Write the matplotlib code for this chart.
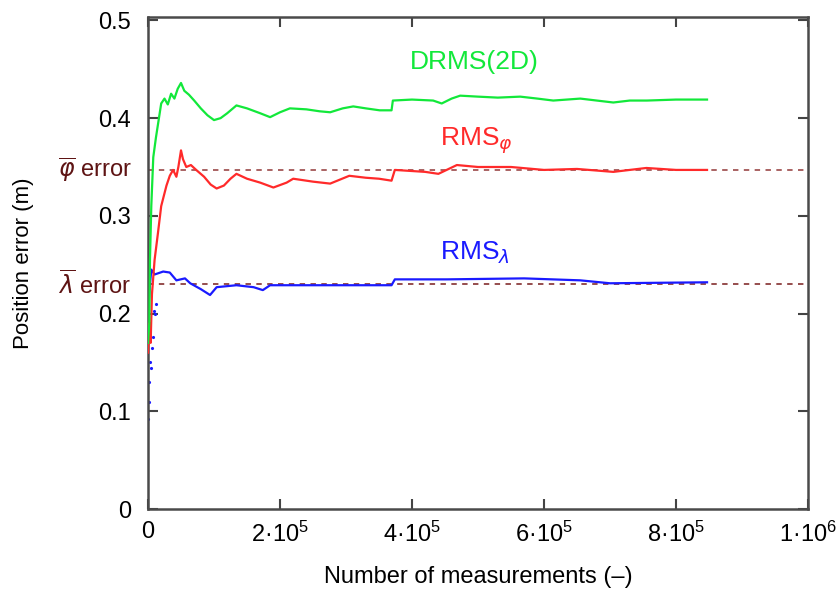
import matplotlib
matplotlib.use("Agg")
import matplotlib.pyplot as plt

plt.rcParams['font.family'] = ['Liberation Sans', 'DejaVu Sans']
plt.rcParams['mathtext.fontset'] = 'custom'
plt.rcParams['mathtext.rm'] = 'Liberation Sans'
plt.rcParams['mathtext.it'] = 'Liberation Sans:italic'
plt.rcParams['mathtext.bf'] = 'Liberation Sans:bold'

# number of measurements (thousands) and running error (m)
drms_n = [0, 2, 3, 5, 8, 12, 20, 25, 30, 35, 40, 45, 50, 55, 62, 70, 80, 90,
          100, 110, 120, 134, 150, 170, 185, 200, 215, 240, 260, 276, 295,
          311, 330, 351, 369, 371, 400, 432, 445, 460, 473, 500, 530, 564,
          590, 614, 655, 680, 705, 730, 756, 800, 847]
drms_v = [0.17, 0.19, 0.255, 0.31, 0.36, 0.38, 0.415, 0.42, 0.414, 0.425,
          0.42, 0.43, 0.436, 0.428, 0.424, 0.418, 0.41, 0.403, 0.398, 0.40,
          0.405, 0.413, 0.41, 0.405, 0.401, 0.406, 0.41, 0.409, 0.407, 0.406,
          0.41, 0.412, 0.41, 0.408, 0.408, 0.418, 0.419, 0.418, 0.415, 0.42,
          0.423, 0.422, 0.421, 0.422, 0.42, 0.418, 0.42, 0.418, 0.416, 0.418,
          0.418, 0.419, 0.419]

phi_n = [0, 2, 4, 6, 10, 15, 20, 28, 33, 38, 43, 46, 50, 53, 58, 65, 73, 85,
         95, 104, 115, 125, 134, 150, 170, 190, 210, 220, 250, 276, 305, 330,
         350, 369, 374, 420, 440, 468, 500, 550, 600, 650, 705, 755, 800, 847]
phi_v = [0.16, 0.19, 0.17, 0.22, 0.255, 0.282, 0.31, 0.331, 0.341, 0.347,
         0.34, 0.35, 0.367, 0.358, 0.35, 0.352, 0.347, 0.34, 0.332, 0.328,
         0.331, 0.338, 0.343, 0.338, 0.334, 0.329, 0.334, 0.338, 0.335,
         0.333, 0.341, 0.339, 0.338, 0.336, 0.347, 0.345, 0.343, 0.352, 0.35,
         0.35, 0.347, 0.348, 0.345, 0.349, 0.347, 0.347]

lam_n = [0, 3, 5, 10, 23, 33, 43, 56, 64, 80, 94, 104, 134, 160, 174, 185,
         250, 350, 369, 374, 453, 570, 655, 700, 847]
lam_v = [0.20, 0.23, 0.245, 0.24, 0.243, 0.242, 0.234, 0.236, 0.231, 0.225,
         0.219, 0.227, 0.229, 0.227, 0.224, 0.229, 0.229, 0.229, 0.229, 0.235,
         0.235, 0.236, 0.234, 0.231, 0.232]

# scattered early lambda estimates
lam_pts_n = [0, 1, 2, 3, 4, 6, 8, 9, 10, 12]
lam_pts_v = [0.092, 0.11, 0.13, 0.15, 0.144, 0.165, 0.176, 0.203, 0.2, 0.21]

phi_mean = 0.347
lam_mean = 0.230

xticks = [0, 2e5, 4e5, 6e5, 8e5, 1e6]
xtick_labels = ['0', '2·10$^5$', '4·10$^5$', '6·10$^5$', '8·10$^5$', '1·10$^6$']
yticks = [0, 0.1, 0.2, 0.3, 0.4, 0.5]
ytick_labels = ['0', '0.1', '0.2', '0.3', '0.4', '0.5']

GREEN = '#12e83a'
RED = '#ff2a2a'
BLUE = '#1a1aff'
DARKRED = '#5e1414'

fig = plt.figure(figsize=(8.38, 5.89), dpi=100)
ax = fig.add_axes([148 / 838, 1 - 509 / 589, 660 / 838, 492 / 589])

k = 1000
ax.axhline(phi_mean, color='#a35656', ls=(0, (3, 3)), lw=1.3, zorder=1)
ax.axhline(lam_mean, color='#8e3f3f', ls=(0, (3, 3)), lw=1.3, zorder=1)

ax.plot([n * k for n in lam_n], lam_v, color=BLUE, lw=1.6, zorder=2)
ax.plot([n * k for n in lam_pts_n], lam_pts_v, ls='none', marker='.',
        ms=2.5, color=BLUE, zorder=2)
ax.plot([n * k for n in phi_n], phi_v, color=RED, lw=1.6, zorder=3)
ax.plot([n * k for n in drms_n], drms_v, color=GREEN, lw=1.6, zorder=4)

ax.text(397e3, 0.457, 'DRMS(2D)', color=GREEN, fontsize=19, va='center')
ax.text(442e3, 0.377, 'RMS$_{\\varphi}$', color=RED, fontsize=19, va='center',
        math_fontfamily='dejavusans')
ax.text(442e3, 0.262, 'RMS$_{\\lambda}$', color=BLUE, fontsize=19, va='center',
        math_fontfamily='dejavusans')

ax.set_xlim(0, 1e6)
ax.set_ylim(0, 0.5035)
ax.set_xticks(xticks)
ax.set_xticklabels(xtick_labels, fontsize=17)
ax.set_yticks(yticks)
ax.set_yticklabels(ytick_labels, fontsize=17)
ax.tick_params(direction='in', length=7, width=1.5, color='#444444',
               top=True, right=True)
ax.tick_params(axis='y', pad=12)
ax.tick_params(axis='x', pad=9)
for s in ax.spines.values():
    s.set_linewidth(1.8)
    s.set_color('#4a4a4a')

for val, sym in [(phi_mean, '\\varphi'), (lam_mean, '\\lambda')]:
    ax.annotate('$\\overline{%s}$ error' % sym, xy=(0, val),
                xycoords=('axes fraction', 'data'), xytext=(-12, 0),
                textcoords='offset points', ha='right', va='center',
                fontsize=17, color=DARKRED, math_fontfamily='dejavusans')

ax.set_xlabel('Number of measurements (–)', fontsize=17, labelpad=14)
ax.set_ylabel('Position error (m)', fontsize=16)
ax.yaxis.set_label_coords(-0.172, 0.5)

fig.savefig('out.png', dpi=100)
